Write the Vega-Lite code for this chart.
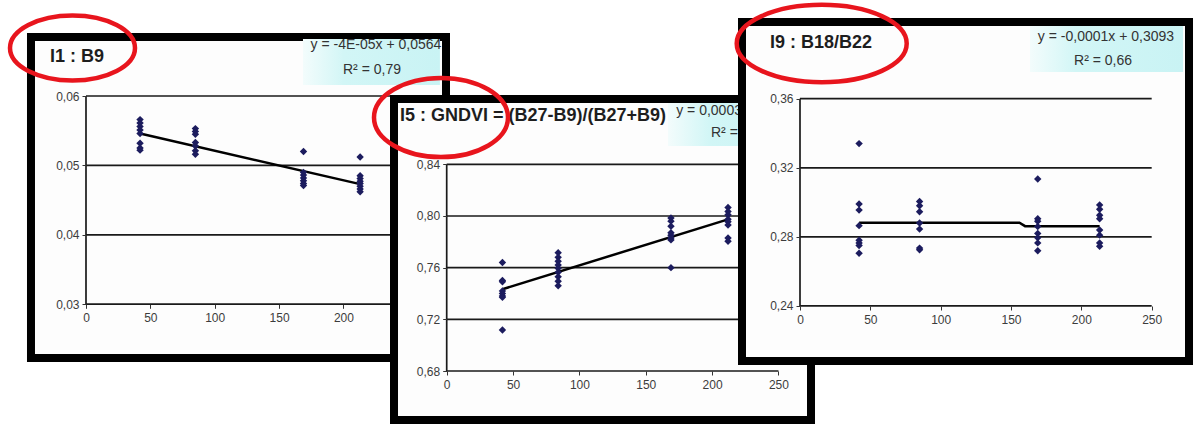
{
  "$schema": "https://vega.github.io/schema/vega-lite/v6.json",
  "padding": 0,
  "background": "white",
  "spacing": 0,
  "bounds": "flush",
  "config": {
    "view": {"stroke": null, "fill": null},
    "axis": {"labelFont": "Liberation Sans", "labelFontSize": 12, "labelColor": "#3c3c3c", "tickColor": "#333333", "domain": false, "grid": false}
  },
  "datasets": {
    "p1": [
      {"x": 42, "y": 0.0566}, {"x": 42, "y": 0.0561}, {"x": 42, "y": 0.0556}, {"x": 42, "y": 0.0551}, {"x": 42, "y": 0.0546}, {"x": 42, "y": 0.0532}, {"x": 42, "y": 0.0525}, {"x": 42, "y": 0.0522},
      {"x": 85, "y": 0.0553}, {"x": 85, "y": 0.0549}, {"x": 85, "y": 0.0545}, {"x": 85, "y": 0.0533}, {"x": 85, "y": 0.0528}, {"x": 85, "y": 0.0521}, {"x": 85, "y": 0.0516},
      {"x": 169, "y": 0.052}, {"x": 169, "y": 0.049}, {"x": 169, "y": 0.0486}, {"x": 169, "y": 0.0482}, {"x": 169, "y": 0.0478}, {"x": 169, "y": 0.0474}, {"x": 169, "y": 0.0471},
      {"x": 213, "y": 0.0512}, {"x": 213, "y": 0.0485}, {"x": 213, "y": 0.0481}, {"x": 213, "y": 0.0477}, {"x": 213, "y": 0.0474}, {"x": 213, "y": 0.047}, {"x": 213, "y": 0.0466}, {"x": 213, "y": 0.0462}
    ],
    "t1": [{"x": 42, "y": 0.0546}, {"x": 213, "y": 0.0473}],
    "p2": [
      {"x": 42, "y": 0.764}, {"x": 42, "y": 0.75}, {"x": 42, "y": 0.749}, {"x": 42, "y": 0.742}, {"x": 42, "y": 0.74}, {"x": 42, "y": 0.738}, {"x": 42, "y": 0.737}, {"x": 42, "y": 0.7118},
      {"x": 84, "y": 0.7716}, {"x": 84, "y": 0.768}, {"x": 84, "y": 0.765}, {"x": 84, "y": 0.762}, {"x": 84, "y": 0.7595}, {"x": 84, "y": 0.7565}, {"x": 84, "y": 0.753}, {"x": 84, "y": 0.7495}, {"x": 84, "y": 0.746},
      {"x": 169, "y": 0.7985}, {"x": 169, "y": 0.796}, {"x": 169, "y": 0.792}, {"x": 169, "y": 0.787}, {"x": 169, "y": 0.785}, {"x": 169, "y": 0.783}, {"x": 169, "y": 0.7815}, {"x": 169, "y": 0.76},
      {"x": 212, "y": 0.8065}, {"x": 212, "y": 0.8035}, {"x": 212, "y": 0.801}, {"x": 212, "y": 0.7975}, {"x": 212, "y": 0.7955}, {"x": 212, "y": 0.793}, {"x": 212, "y": 0.783}, {"x": 212, "y": 0.7805}
    ],
    "t2": [{"x": 42, "y": 0.7433}, {"x": 212, "y": 0.7974}],
    "p3": [
      {"x": 42, "y": 0.334}, {"x": 42, "y": 0.299}, {"x": 42, "y": 0.2955}, {"x": 42, "y": 0.2865}, {"x": 42, "y": 0.278}, {"x": 42, "y": 0.2765}, {"x": 42, "y": 0.275}, {"x": 42, "y": 0.2705},
      {"x": 85, "y": 0.3005}, {"x": 85, "y": 0.298}, {"x": 85, "y": 0.2945}, {"x": 85, "y": 0.288}, {"x": 85, "y": 0.2845}, {"x": 85, "y": 0.2735}, {"x": 85, "y": 0.2725},
      {"x": 169, "y": 0.3135}, {"x": 169, "y": 0.2905}, {"x": 169, "y": 0.289}, {"x": 169, "y": 0.286}, {"x": 169, "y": 0.282}, {"x": 169, "y": 0.2795}, {"x": 169, "y": 0.2765}, {"x": 169, "y": 0.272},
      {"x": 213, "y": 0.2985}, {"x": 213, "y": 0.296}, {"x": 213, "y": 0.2925}, {"x": 213, "y": 0.2905}, {"x": 213, "y": 0.284}, {"x": 213, "y": 0.281}, {"x": 213, "y": 0.2765}, {"x": 213, "y": 0.2745}
    ],
    "t3": [{"x": 42, "y": 0.2882}, {"x": 156, "y": 0.2882}, {"x": 160, "y": 0.2862}, {"x": 213, "y": 0.2862}]
  },
  "hconcat": [
    {
      "width": 390, "height": 424,
      "layer": [
        {"data": {"values": [{}]}, "mark": {"type": "rect", "fill": "#fdfdfd", "stroke": "#000000", "strokeWidth": 8},
         "encoding": {"x": {"datum": -42.74, "type": "quantitative", "scale": {"domain": [-66.82, 236.21], "nice": false, "zero": false}}, "x2": {"datum": 279.72},
                      "y": {"datum": 0.0685, "type": "quantitative", "scale": {"domain": [0.012738, 0.073833], "nice": false, "zero": false}}, "y2": {"datum": 0.02225}}},
        {"data": {"values": [{}]}, "mark": {"type": "rect", "fill": {"gradient": "linear", "x1": 0, "y1": 0, "x2": 1, "y2": 0, "stops": [{"offset": 0, "color": "#f3fcfc"}, {"offset": 0.3, "color": "#d2f6f6"}, {"offset": 1, "color": "#c9f3f4"}]}},
         "encoding": {"x": {"datum": 168.6, "type": "quantitative", "scale": {"domain": [-66.82, 236.21], "nice": false, "zero": false}}, "x2": {"datum": 275.0},
                      "y": {"datum": 0.06821, "type": "quantitative", "scale": {"domain": [0.012738, 0.073833], "nice": false, "zero": false}}, "y2": {"datum": 0.06159}}},
        {"data": {"values": [{"g": 0.03}, {"g": 0.04}, {"g": 0.05}, {"g": 0.06}]}, "mark": {"type": "rule", "color": "#1a1a1a", "strokeWidth": 1.7},
         "encoding": {"y": {"field": "g", "type": "quantitative", "scale": {"domain": [0.012738, 0.073833], "nice": false, "zero": false}},
                      "x": {"datum": 0, "type": "quantitative", "scale": {"domain": [-66.82, 236.21], "nice": false, "zero": false}}, "x2": {"datum": 250}}},
        {"data": {"values": [{}]}, "mark": {"type": "rule", "color": "#1a1a1a", "strokeWidth": 1.7},
         "encoding": {"x": {"datum": 0, "type": "quantitative", "scale": {"domain": [-66.82, 236.21], "nice": false, "zero": false}},
                      "y": {"datum": 0.03, "type": "quantitative", "scale": {"domain": [0.012738, 0.073833], "nice": false, "zero": false}}, "y2": {"datum": 0.06}}},
        {"data": {"name": "t1"}, "mark": {"type": "line", "color": "#000000", "strokeWidth": 2.5},
         "encoding": {"x": {"field": "x", "type": "quantitative", "scale": {"domain": [-66.82, 236.21], "nice": false, "zero": false}},
                      "y": {"field": "y", "type": "quantitative", "scale": {"domain": [0.012738, 0.073833], "nice": false, "zero": false}}}},
        {"data": {"name": "p1"}, "mark": {"type": "point", "shape": "diamond", "filled": true, "size": 55, "color": "#1c1c5e", "opacity": 1},
         "encoding": {"x": {"field": "x", "type": "quantitative", "scale": {"domain": [-66.82, 236.21], "nice": false, "zero": false},
                            "axis": {"values": [0, 50, 100, 150, 200, 250], "format": "d", "offset": -119.7, "tickSize": 4, "labelPadding": 4, "title": null, "zindex": 1, "labelFlush": false, "labelOverlap": false}},
                      "y": {"field": "y", "type": "quantitative", "scale": {"domain": [0.012738, 0.073833], "nice": false, "zero": false},
                            "axis": {"values": [0.03, 0.04, 0.05, 0.06], "labelExpr": "replace(format(datum.value, '.2f'), '.', ',')", "offset": -86, "tickSize": 4, "labelPadding": 3, "title": null, "zindex": 1, "labelFlush": false, "labelOverlap": false}}}},
        {"data": {"values": [{}]}, "mark": {"type": "text", "text": "I1 : B9", "align": "left", "baseline": "middle", "font": "Liberation Sans", "fontSize": 18, "fontWeight": "bold", "color": "#1e1e1e"},
         "encoding": {"x": {"datum": -27.97, "type": "quantitative", "scale": {"domain": [-66.82, 236.21], "nice": false, "zero": false}},
                      "y": {"datum": 0.06562, "type": "quantitative", "scale": {"domain": [0.012738, 0.073833], "nice": false, "zero": false}}}},
        {"data": {"values": [{}]}, "mark": {"type": "text", "text": "y = -4E-05x + 0,0564", "align": "center", "baseline": "middle", "font": "Liberation Sans", "fontSize": 14, "color": "#333333"},
         "encoding": {"x": {"datum": 225.3, "type": "quantitative", "scale": {"domain": [-66.82, 236.21], "nice": false, "zero": false}},
                      "y": {"datum": 0.06735, "type": "quantitative", "scale": {"domain": [0.012738, 0.073833], "nice": false, "zero": false}}}},
        {"data": {"values": [{}]}, "mark": {"type": "text", "text": "R² = 0,79", "align": "center", "baseline": "middle", "font": "Liberation Sans", "fontSize": 14, "color": "#333333"},
         "encoding": {"x": {"datum": 222.2, "type": "quantitative", "scale": {"domain": [-66.82, 236.21], "nice": false, "zero": false}},
                      "y": {"datum": 0.06375, "type": "quantitative", "scale": {"domain": [0.012738, 0.073833], "nice": false, "zero": false}}}},
        {"data": {"values": [{}]}, "mark": {"type": "point", "shape": "M -1 0 A 1 0.52 0 1 1 1 0 A 1 0.52 0 1 1 -1 0 Z", "size": 15625, "filled": false, "stroke": "#e8151d", "strokeWidth": 4.5, "strokeJoin": "round", "opacity": 1},
         "encoding": {"x": {"datum": -10.49, "type": "quantitative", "scale": {"domain": [-66.82, 236.21], "nice": false, "zero": false}},
                      "y": {"datum": 0.06692, "type": "quantitative", "scale": {"domain": [0.012738, 0.073833], "nice": false, "zero": false}}}}
      ]
    },
    {
      "width": 400, "height": 424,
      "layer": [
        {"data": {"values": [{}]}, "mark": {"type": "rect", "fill": "#fdfdfd", "stroke": "#000000", "strokeWidth": 8},
         "encoding": {"x": {"datum": -39.71, "type": "quantitative", "scale": {"domain": [-42.73, 258.7], "nice": false, "zero": false}}, "x2": {"datum": 274.53},
                      "y": {"datum": 0.89054, "type": "quantitative", "scale": {"domain": [0.63899, 0.96717], "nice": false, "zero": false}}, "y2": {"datum": 0.64209}}},
        {"data": {"values": [{}]}, "mark": {"type": "rect", "fill": {"gradient": "linear", "x1": 0, "y1": 0, "x2": 1, "y2": 0, "stops": [{"offset": 0, "color": "#f3fcfc"}, {"offset": 0.3, "color": "#d2f6f6"}, {"offset": 1, "color": "#c9f3f4"}]}},
         "encoding": {"x": {"datum": 166.8, "type": "quantitative", "scale": {"domain": [-42.73, 258.7], "nice": false, "zero": false}}, "x2": {"datum": 270.0},
                      "y": {"datum": 0.88745, "type": "quantitative", "scale": {"domain": [0.63899, 0.96717], "nice": false, "zero": false}}, "y2": {"datum": 0.85416}}},
        {"data": {"values": [{"g": 0.68}, {"g": 0.72}, {"g": 0.76}, {"g": 0.80}, {"g": 0.84}]}, "mark": {"type": "rule", "color": "#1a1a1a", "strokeWidth": 1.7},
         "encoding": {"y": {"field": "g", "type": "quantitative", "scale": {"domain": [0.63899, 0.96717], "nice": false, "zero": false}},
                      "x": {"datum": 0, "type": "quantitative", "scale": {"domain": [-42.73, 258.7], "nice": false, "zero": false}}, "x2": {"datum": 250}}},
        {"data": {"values": [{}]}, "mark": {"type": "rule", "color": "#1a1a1a", "strokeWidth": 1.7},
         "encoding": {"x": {"datum": 0, "type": "quantitative", "scale": {"domain": [-42.73, 258.7], "nice": false, "zero": false}},
                      "y": {"datum": 0.68, "type": "quantitative", "scale": {"domain": [0.63899, 0.96717], "nice": false, "zero": false}}, "y2": {"datum": 0.84}}},
        {"data": {"name": "t2"}, "mark": {"type": "line", "color": "#000000", "strokeWidth": 2.5},
         "encoding": {"x": {"field": "x", "type": "quantitative", "scale": {"domain": [-42.73, 258.7], "nice": false, "zero": false}},
                      "y": {"field": "y", "type": "quantitative", "scale": {"domain": [0.63899, 0.96717], "nice": false, "zero": false}}}},
        {"data": {"name": "p2"}, "mark": {"type": "point", "shape": "diamond", "filled": true, "size": 55, "color": "#1c1c5e", "opacity": 1},
         "encoding": {"x": {"field": "x", "type": "quantitative", "scale": {"domain": [-42.73, 258.7], "nice": false, "zero": false},
                            "axis": {"values": [0, 50, 100, 150, 200, 250], "format": "d", "offset": -53, "tickSize": 4, "labelPadding": 4, "title": null, "zindex": 1, "labelFlush": false, "labelOverlap": false}},
                      "y": {"field": "y", "type": "quantitative", "scale": {"domain": [0.63899, 0.96717], "nice": false, "zero": false},
                            "axis": {"values": [0.68, 0.72, 0.76, 0.80, 0.84], "labelExpr": "replace(format(datum.value, '.2f'), '.', ',')", "offset": -56.7, "tickSize": 4, "labelPadding": 3, "title": null, "zindex": 1, "labelFlush": false, "labelOverlap": false}}}},
        {"data": {"values": [{}]}, "mark": {"type": "text", "text": "I5 : GNDVI = (B27-B9)/(B27+B9)", "align": "left", "baseline": "middle", "font": "Liberation Sans", "fontSize": 18, "fontWeight": "bold", "color": "#1e1e1e"},
         "encoding": {"x": {"datum": -35.19, "type": "quantitative", "scale": {"domain": [-42.73, 258.7], "nice": false, "zero": false}},
                      "y": {"datum": 0.87738, "type": "quantitative", "scale": {"domain": [0.63899, 0.96717], "nice": false, "zero": false}}}},
        {"data": {"values": [{}]}, "mark": {"type": "text", "text": "y = 0,0003x + 0,7299", "align": "center", "baseline": "middle", "font": "Liberation Sans", "fontSize": 14, "color": "#333333"},
         "encoding": {"x": {"datum": 222.5, "type": "quantitative", "scale": {"domain": [-42.73, 258.7], "nice": false, "zero": false}},
                      "y": {"datum": 0.88125, "type": "quantitative", "scale": {"domain": [0.63899, 0.96717], "nice": false, "zero": false}}}},
        {"data": {"values": [{}]}, "mark": {"type": "text", "text": "R² = 0,74", "align": "center", "baseline": "middle", "font": "Liberation Sans", "fontSize": 14, "color": "#333333"},
         "encoding": {"x": {"datum": 221.0, "type": "quantitative", "scale": {"domain": [-42.73, 258.7], "nice": false, "zero": false}},
                      "y": {"datum": 0.86423, "type": "quantitative", "scale": {"domain": [0.63899, 0.96717], "nice": false, "zero": false}}}},
        {"data": {"values": [{}]}, "mark": {"type": "point", "shape": "M -1 0 A 1 0.59 0 1 1 1 0 A 1 0.59 0 1 1 -1 0 Z", "size": 17956, "filled": false, "stroke": "#e8151d", "strokeWidth": 4.5, "strokeJoin": "round", "opacity": 1},
         "encoding": {"x": {"datum": -4.3, "type": "quantitative", "scale": {"domain": [-42.73, 258.7], "nice": false, "zero": false}},
                      "y": {"datum": 0.87622, "type": "quantitative", "scale": {"domain": [0.63899, 0.96717], "nice": false, "zero": false}}}}
      ]
    },
    {
      "width": 404, "height": 424,
      "layer": [
        {"data": {"values": [{}]}, "mark": {"type": "rect", "fill": "#fdfdfd", "stroke": "#000000", "strokeWidth": 8},
         "encoding": {"x": {"datum": -41.23, "type": "quantitative", "scale": {"domain": [-7.109, 280.08], "nice": false, "zero": false}}, "x2": {"datum": 276.53},
                      "y": {"datum": 0.40441, "type": "quantitative", "scale": {"domain": [0.17164, 0.41715], "nice": false, "zero": false}}, "y2": {"datum": 0.20812}}},
        {"data": {"values": [{}]}, "mark": {"type": "rect", "fill": {"gradient": "linear", "x1": 0, "y1": 0, "x2": 1, "y2": 0, "stops": [{"offset": 0, "color": "#f3fcfc"}, {"offset": 0.3, "color": "#d2f6f6"}, {"offset": 1, "color": "#c9f3f4"}]}},
         "encoding": {"x": {"datum": 163.5, "type": "quantitative", "scale": {"domain": [-7.109, 280.08], "nice": false, "zero": false}}, "x2": {"datum": 272.3},
                      "y": {"datum": 0.4021, "type": "quantitative", "scale": {"domain": [0.17164, 0.41715], "nice": false, "zero": false}}, "y2": {"datum": 0.37546}}},
        {"data": {"values": [{"g": 0.24}, {"g": 0.28}, {"g": 0.32}, {"g": 0.36}]}, "mark": {"type": "rule", "color": "#1a1a1a", "strokeWidth": 1.7},
         "encoding": {"y": {"field": "g", "type": "quantitative", "scale": {"domain": [0.17164, 0.41715], "nice": false, "zero": false}},
                      "x": {"datum": 0, "type": "quantitative", "scale": {"domain": [-7.109, 280.08], "nice": false, "zero": false}}, "x2": {"datum": 250}}},
        {"data": {"values": [{}]}, "mark": {"type": "rule", "color": "#1a1a1a", "strokeWidth": 1.7},
         "encoding": {"x": {"datum": 0, "type": "quantitative", "scale": {"domain": [-7.109, 280.08], "nice": false, "zero": false}},
                      "y": {"datum": 0.24, "type": "quantitative", "scale": {"domain": [0.17164, 0.41715], "nice": false, "zero": false}}, "y2": {"datum": 0.36}}},
        {"data": {"name": "t3"}, "mark": {"type": "line", "color": "#000000", "strokeWidth": 2.5},
         "encoding": {"x": {"field": "x", "type": "quantitative", "scale": {"domain": [-7.109, 280.08], "nice": false, "zero": false}},
                      "y": {"field": "y", "type": "quantitative", "scale": {"domain": [0.17164, 0.41715], "nice": false, "zero": false}}}},
        {"data": {"name": "p3"}, "mark": {"type": "point", "shape": "diamond", "filled": true, "size": 55, "color": "#1c1c5e", "opacity": 1},
         "encoding": {"x": {"field": "x", "type": "quantitative", "scale": {"domain": [-7.109, 280.08], "nice": false, "zero": false},
                            "axis": {"values": [0, 50, 100, 150, 200, 250], "format": "d", "offset": -118, "tickSize": 4, "labelPadding": 4, "title": null, "zindex": 1, "labelFlush": false, "labelOverlap": false}},
                      "y": {"field": "y", "type": "quantitative", "scale": {"domain": [0.17164, 0.41715], "nice": false, "zero": false},
                            "axis": {"values": [0.24, 0.28, 0.32, 0.36], "labelExpr": "replace(format(datum.value, '.2f'), '.', ',')", "offset": -10, "tickSize": 4, "labelPadding": 3, "title": null, "zindex": 1, "labelFlush": false, "labelOverlap": false}}}},
        {"data": {"values": [{}]}, "mark": {"type": "text", "text": "I9 : B18/B22", "align": "left", "baseline": "middle", "font": "Liberation Sans", "fontSize": 18, "fontWeight": "bold", "color": "#1e1e1e"},
         "encoding": {"x": {"datum": -21.33, "type": "quantitative", "scale": {"domain": [-7.109, 280.08], "nice": false, "zero": false}},
                      "y": {"datum": 0.39225, "type": "quantitative", "scale": {"domain": [0.17164, 0.41715], "nice": false, "zero": false}}}},
        {"data": {"values": [{}]}, "mark": {"type": "text", "text": "y = -0,0001x + 0,3093", "align": "center", "baseline": "middle", "font": "Liberation Sans", "fontSize": 14, "color": "#333333"},
         "encoding": {"x": {"datum": 217.5, "type": "quantitative", "scale": {"domain": [-7.109, 280.08], "nice": false, "zero": false}},
                      "y": {"datum": 0.39573, "type": "quantitative", "scale": {"domain": [0.17164, 0.41715], "nice": false, "zero": false}}}},
        {"data": {"values": [{}]}, "mark": {"type": "text", "text": "R² = 0,66", "align": "center", "baseline": "middle", "font": "Liberation Sans", "fontSize": 14, "color": "#333333"},
         "encoding": {"x": {"datum": 215.4, "type": "quantitative", "scale": {"domain": [-7.109, 280.08], "nice": false, "zero": false}},
                      "y": {"datum": 0.38183, "type": "quantitative", "scale": {"domain": [0.17164, 0.41715], "nice": false, "zero": false}}}},
        {"data": {"values": [{}]}, "mark": {"type": "point", "shape": "M -1 0 A 1 0.455 0 1 1 1 0 A 1 0.455 0 1 1 -1 0 Z", "size": 28900, "filled": false, "stroke": "#e8151d", "strokeWidth": 4.5, "strokeJoin": "round", "opacity": 1},
         "encoding": {"x": {"datum": 15.43, "type": "quantitative", "scale": {"domain": [-7.109, 280.08], "nice": false, "zero": false}},
                      "y": {"datum": 0.39196, "type": "quantitative", "scale": {"domain": [0.17164, 0.41715], "nice": false, "zero": false}}}}
      ]
    }
  ]
}
